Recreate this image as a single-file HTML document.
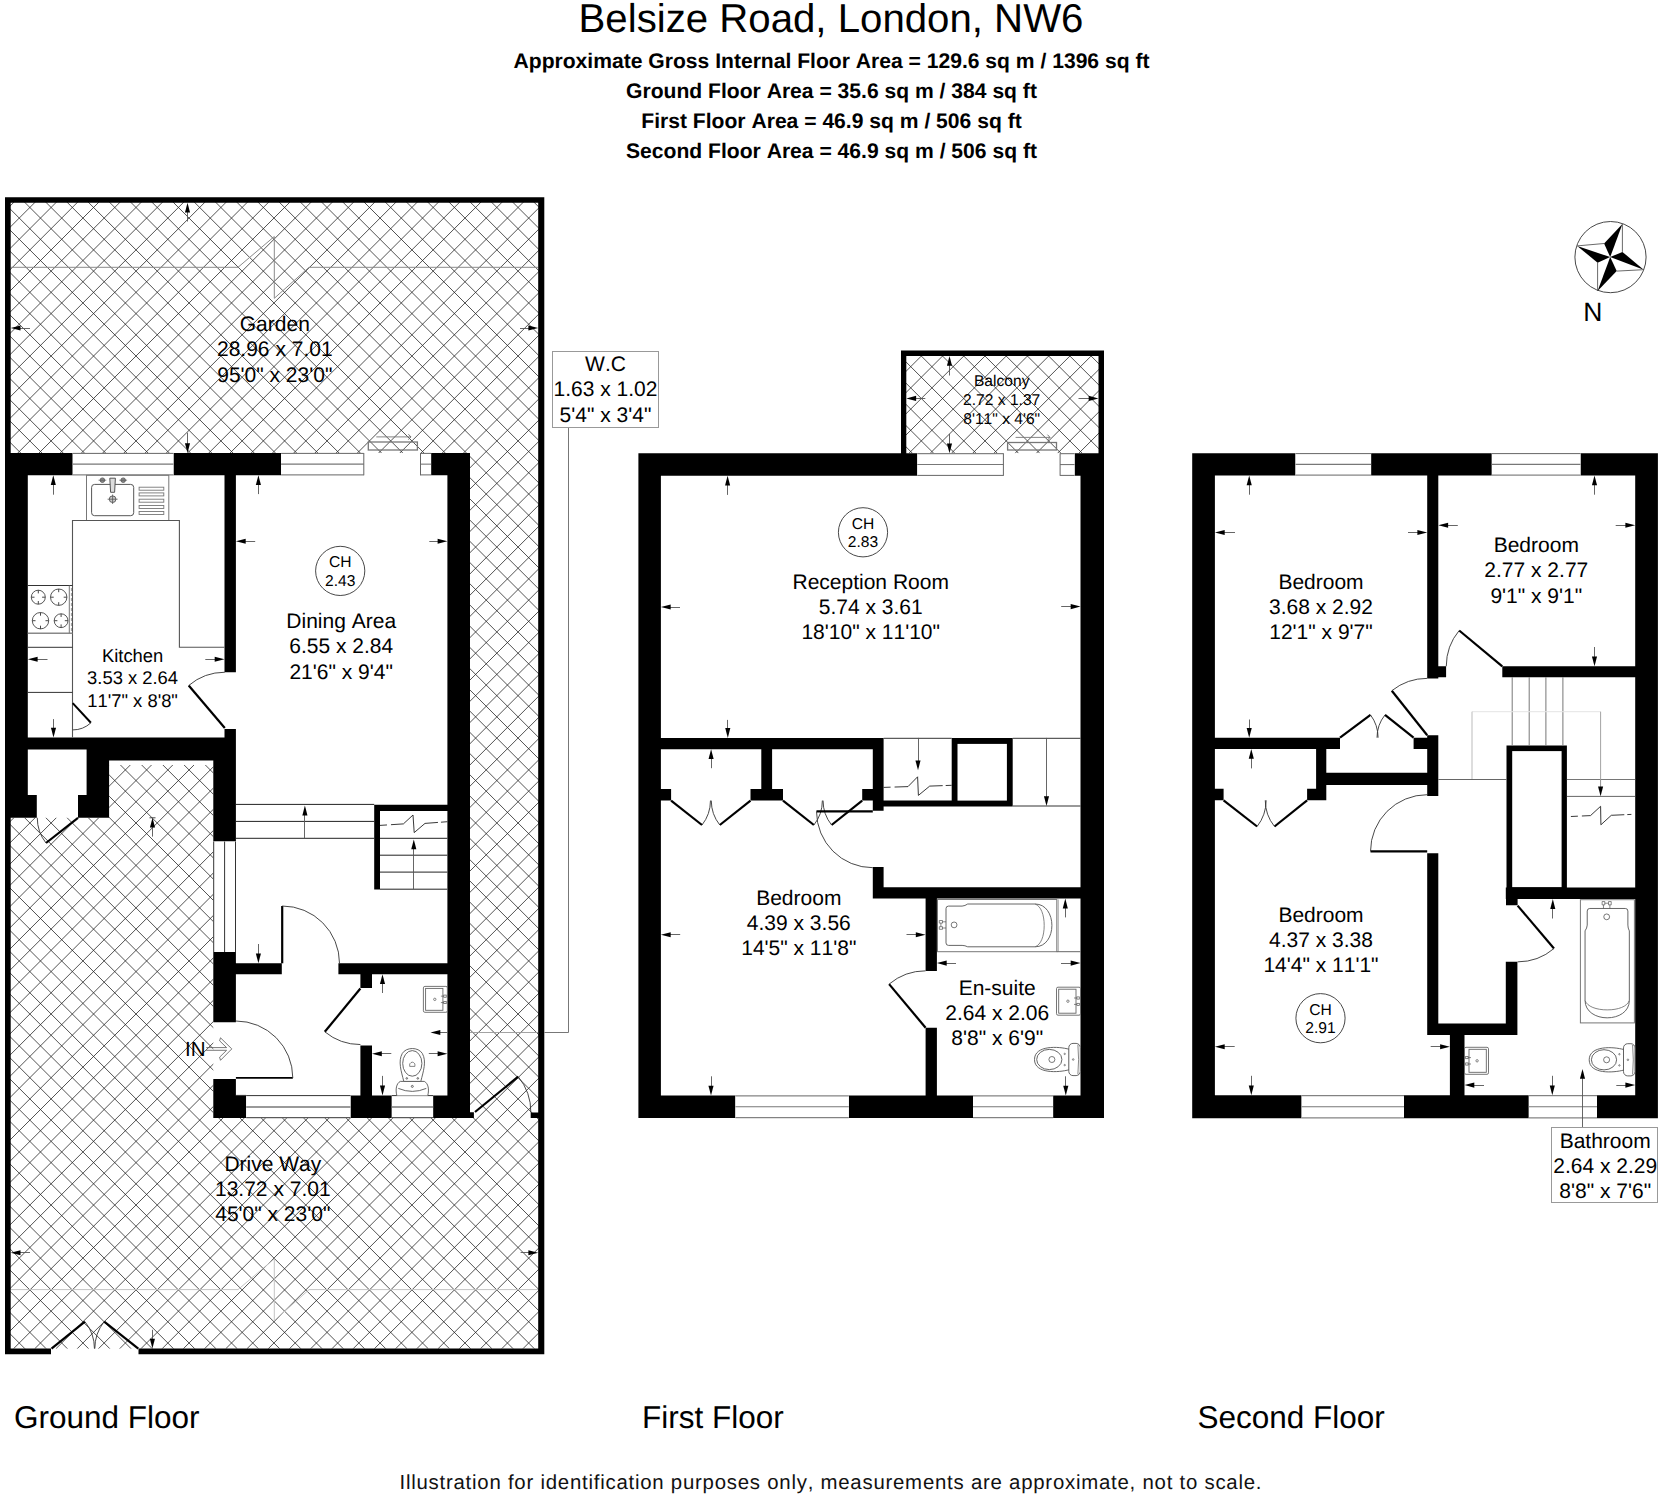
<!DOCTYPE html>
<html><head><meta charset="utf-8"><title>Belsize Road floor plan</title>
<style>html,body{margin:0;padding:0;background:#fff}svg{display:block}</style></head>
<body>
<svg width="1664" height="1496" viewBox="0 0 1664 1496" font-family="'Liberation Sans', sans-serif" fill="#000" style="font-kerning:none" text-rendering="geometricPrecision">
<rect width="1664" height="1496" fill="#fff"/>
<clipPath id="hg"><rect x="8" y="200" width="533" height="1148.8"/></clipPath>
<g clip-path="url(#hg)" stroke="#222" stroke-width="0.78">
<path d="M-1123.75 200L25.05 1348.8M-1102.52 200L46.28 1348.8M-1081.3 200L67.5 1348.8M-1060.07 200L88.73 1348.8M-1038.85 200L109.95 1348.8M-1017.62 200L131.18 1348.8M-996.39 200L152.4 1348.8M-975.17 200L173.63 1348.8M-953.95 200L194.85 1348.8M-932.72 200L216.08 1348.8M-911.5 200L237.3 1348.8M-890.27 200L258.53 1348.8M-869.05 200L279.75 1348.8M-847.82 200L300.98 1348.8M-826.6 200L322.2 1348.8M-805.37 200L343.43 1348.8M-784.14 200L364.65 1348.8M-762.92 200L385.88 1348.8M-741.69 200L407.11 1348.8M-720.47 200L428.33 1348.8M-699.25 200L449.55 1348.8M-678.02 200L470.78 1348.8M-656.8 200L492 1348.8M-635.57 200L513.23 1348.8M-614.35 200L534.45 1348.8M-593.12 200L555.68 1348.8M-571.89 200L576.9 1348.8M-550.67 200L598.13 1348.8M-529.44 200L619.36 1348.8M-508.22 200L640.58 1348.8M-487 200L661.8 1348.8M-465.77 200L683.03 1348.8M-444.55 200L704.25 1348.8M-423.32 200L725.48 1348.8M-402.1 200L746.7 1348.8M-380.87 200L767.93 1348.8M-359.64 200L789.15 1348.8M-338.42 200L810.38 1348.8M-317.19 200L831.61 1348.8M-295.97 200L852.83 1348.8M-274.75 200L874.05 1348.8M-253.52 200L895.28 1348.8M-232.3 200L916.5 1348.8M-211.07 200L937.73 1348.8M-189.85 200L958.95 1348.8M-168.62 200L980.18 1348.8M-147.39 200L1001.4 1348.8M-126.17 200L1022.63 1348.8M-104.94 200L1043.86 1348.8M-83.72 200L1065.08 1348.8M-62.5 200L1086.3 1348.8M-41.27 200L1107.53 1348.8M-20.04 200L1128.75 1348.8M1.18 200L1149.98 1348.8M22.41 200L1171.2 1348.8M43.63 200L1192.43 1348.8M64.86 200L1213.65 1348.8M86.08 200L1234.88 1348.8M107.31 200L1256.11 1348.8M128.53 200L1277.33 1348.8M149.76 200L1298.56 1348.8M170.98 200L1319.78 1348.8M192.21 200L1341 1348.8M213.43 200L1362.23 1348.8M234.66 200L1383.45 1348.8M255.88 200L1404.68 1348.8M277.11 200L1425.9 1348.8M298.33 200L1447.13 1348.8M319.56 200L1468.36 1348.8M340.78 200L1489.58 1348.8M362.01 200L1510.81 1348.8M383.23 200L1532.03 1348.8M404.46 200L1553.26 1348.8M425.68 200L1574.48 1348.8M446.91 200L1595.7 1348.8M468.13 200L1616.93 1348.8M489.36 200L1638.15 1348.8M510.58 200L1659.38 1348.8M531.81 200L1680.61 1348.8M16.09 200L-1132.7 1348.8M37.32 200L-1111.48 1348.8M58.55 200L-1090.25 1348.8M79.77 200L-1069.03 1348.8M101 200L-1047.8 1348.8M122.22 200L-1026.58 1348.8M143.44 200L-1005.36 1348.8M164.67 200L-984.13 1348.8M185.89 200L-962.9 1348.8M207.12 200L-941.68 1348.8M228.35 200L-920.45 1348.8M249.57 200L-899.23 1348.8M270.8 200L-878 1348.8M292.02 200L-856.78 1348.8M313.25 200L-835.55 1348.8M334.47 200L-814.33 1348.8M355.69 200L-793.11 1348.8M376.92 200L-771.88 1348.8M398.14 200L-750.65 1348.8M419.37 200L-729.43 1348.8M440.6 200L-708.2 1348.8M461.82 200L-686.98 1348.8M483.05 200L-665.75 1348.8M504.27 200L-644.53 1348.8M525.5 200L-623.3 1348.8M546.72 200L-602.08 1348.8M567.94 200L-580.86 1348.8M589.17 200L-559.63 1348.8M610.39 200L-538.4 1348.8M631.62 200L-517.18 1348.8M652.85 200L-495.95 1348.8M674.07 200L-474.73 1348.8M695.3 200L-453.5 1348.8M716.52 200L-432.28 1348.8M737.75 200L-411.05 1348.8M758.97 200L-389.83 1348.8M780.19 200L-368.61 1348.8M801.42 200L-347.38 1348.8M822.64 200L-326.15 1348.8M843.87 200L-304.93 1348.8M865.1 200L-283.7 1348.8M886.32 200L-262.48 1348.8M907.55 200L-241.25 1348.8M928.77 200L-220.03 1348.8M950 200L-198.8 1348.8M971.22 200L-177.58 1348.8M992.45 200L-156.35 1348.8M1013.67 200L-135.13 1348.8M1034.89 200L-113.9 1348.8M1056.12 200L-92.68 1348.8M1077.35 200L-71.45 1348.8M1098.57 200L-50.23 1348.8M1119.8 200L-29 1348.8M1141.02 200L-7.78 1348.8M1162.25 200L13.45 1348.8M1183.47 200L34.67 1348.8M1204.69 200L55.89 1348.8M1225.92 200L77.12 1348.8M1247.14 200L98.35 1348.8M1268.37 200L119.57 1348.8M1289.6 200L140.8 1348.8M1310.82 200L162.02 1348.8M1332.05 200L183.25 1348.8M1353.27 200L204.47 1348.8M1374.5 200L225.7 1348.8M1395.72 200L246.92 1348.8M1416.94 200L268.14 1348.8M1438.17 200L289.37 1348.8M1459.39 200L310.6 1348.8M1480.62 200L331.82 1348.8M1501.85 200L353.05 1348.8M1523.07 200L374.27 1348.8M1544.3 200L395.5 1348.8M1565.52 200L416.72 1348.8M1586.75 200L437.95 1348.8M1607.97 200L459.17 1348.8M1629.19 200L480.39 1348.8M1650.42 200L501.62 1348.8M1671.64 200L522.85 1348.8" fill="none"/>
</g>
<clipPath id="hb"><rect x="904" y="353" width="197" height="100.3"/></clipPath>
<g clip-path="url(#hb)" stroke="#222" stroke-width="0.78">
<path d="M812.15 353L912.46 453.3M833.38 353L933.68 453.3M854.61 353L954.91 453.3M875.83 353L976.13 453.3M897.06 353L997.36 453.3M918.28 353L1018.58 453.3M939.51 353L1039.81 453.3M960.73 353L1061.03 453.3M981.96 353L1082.26 453.3M1003.18 353L1103.48 453.3M1024.4 353L1124.7 453.3M1045.63 353L1145.93 453.3M1066.86 353L1167.15 453.3M1088.08 353L1188.38 453.3M924.35 353L824.05 453.3M945.57 353L845.27 453.3M966.8 353L866.5 453.3M988.02 353L887.72 453.3M1009.25 353L908.95 453.3M1030.47 353L930.17 453.3M1051.69 353L951.39 453.3M1072.92 353L972.62 453.3M1094.14 353L993.85 453.3M1115.37 353L1015.07 453.3M1136.6 353L1036.3 453.3M1157.82 353L1057.52 453.3M1179.05 353L1078.75 453.3M1200.27 353L1099.97 453.3" fill="none"/>
</g>
<path d="M10.7 267.3 L238 267.3 L274.3 236.5 L274.3 298.3 L309 267.3 L538 267.3" stroke="#8a8a8a" stroke-width="1" fill="none" />
<path d="M10.7 1289.6 L238 1289.6 L274.3 1258.8 L274.3 1320.6 L309 1289.6 L538 1289.6" stroke="#c4c4c4" stroke-width="1" fill="none" />
<rect x="5" y="453" width="465" height="312" fill="#fff" />
<rect x="5" y="453" width="104.1" height="364.8" fill="#fff" />
<rect x="213.3" y="758" width="256.7" height="360.1" fill="#fff" />
<path d="M5 197.2H544.3V202.8H5ZM5 197.2H10.7V1354.2H5ZM538.2 197.2H544.3V1354.2H538.2ZM5 1348.6H51V1354.2H5ZM138.5 1348.6H544.3V1354.2H138.5ZM530.7 1112.5H538.3V1118H530.7ZM5 453H72.7V475.3H5ZM173.5 453H281.1V475.3H173.5ZM431.1 453H470V475.3H431.1ZM447.4 453H470V1118.1H447.4ZM5 453H27.8V817.8H5ZM224.5 470H235.9V672.2H224.5ZM224.5 729H235.9V760H224.5ZM5 737.6H90V749.5H5ZM86.6 737.6H235.9V760.6H86.6ZM86.6 745H109.1V817.8H86.6ZM27.8 794.9H36.8V817.8H27.8ZM78 794.9H86.6V817.8H78ZM213.3 755H235.9V841.5H213.3ZM213.3 952H235.9V1022.2H213.3ZM213.3 1079H235.9V1118.1H213.3ZM235.9 963.3H281.8V974.2H235.9ZM338.4 963.3H447.4V974.2H338.4ZM360.4 974.2H372V988H360.4ZM360.4 1045.4H372V1095.5H360.4ZM213.3 1095.4H246.2V1118.1H213.3ZM350.5 1095.4H391.8V1118.1H350.5ZM433.1 1095.4H470V1118H433.1ZM469 1112.3H473.9V1117.9H469ZM374.2 804.8H447.4V810.9H374.2ZM374.2 804.8H380V889.4H374.2Z" fill="#000"/>
<rect x="72.7" y="453" width="100.8" height="22.3" fill="#fff" />
<line x1="72.7" y1="453.4" x2="173.5" y2="453.4" stroke="#555" stroke-width="0.9" />
<line x1="72.7" y1="464.15" x2="173.5" y2="464.15" stroke="#777" stroke-width="1.1" />
<line x1="72.7" y1="474.9" x2="173.5" y2="474.9" stroke="#555" stroke-width="0.9" />
<rect x="281.1" y="453" width="82.7" height="22.3" fill="#fff" />
<line x1="281.1" y1="453.4" x2="363.8" y2="453.4" stroke="#555" stroke-width="0.9" />
<line x1="281.1" y1="464.15" x2="363.8" y2="464.15" stroke="#777" stroke-width="1.1" />
<line x1="281.1" y1="474.9" x2="363.8" y2="474.9" stroke="#555" stroke-width="0.9" />
<rect x="420.3" y="453" width="10.8" height="22.3" fill="#fff" />
<line x1="420.3" y1="453.4" x2="431.1" y2="453.4" stroke="#555" stroke-width="0.9" />
<line x1="420.3" y1="464.15" x2="431.1" y2="464.15" stroke="#777" stroke-width="1.1" />
<line x1="420.3" y1="474.9" x2="431.1" y2="474.9" stroke="#555" stroke-width="0.9" />
<line x1="363.8" y1="453" x2="363.8" y2="475.3" stroke="#666" stroke-width="1" />
<line x1="420.5" y1="453" x2="420.5" y2="475.3" stroke="#666" stroke-width="1" />
<rect x="213.3" y="841.5" width="22.6" height="110.5" fill="#fff" />
<line x1="213.7" y1="841.5" x2="213.7" y2="952" stroke="#333" stroke-width="1" />
<line x1="224.6" y1="841.5" x2="224.6" y2="952" stroke="#333" stroke-width="1" />
<line x1="235.5" y1="841.5" x2="235.5" y2="952" stroke="#333" stroke-width="1" />
<rect x="246.2" y="1095.4" width="104.3" height="22.7" fill="#fff" />
<line x1="246.2" y1="1095.6" x2="350.5" y2="1095.6" stroke="#333" stroke-width="1" />
<line x1="246.2" y1="1107" x2="350.5" y2="1107" stroke="#777" stroke-width="1.3" />
<line x1="246.2" y1="1117.7" x2="350.5" y2="1117.7" stroke="#333" stroke-width="1" />
<line x1="235.9" y1="1095.4" x2="246.2" y2="1095.4" stroke="#333" stroke-width="1" />
<rect x="391.8" y="1095.4" width="41.3" height="22.7" fill="#fff" />
<line x1="391.8" y1="1095.6" x2="433.1" y2="1095.6" stroke="#333" stroke-width="1" />
<line x1="391.8" y1="1107" x2="433.1" y2="1107" stroke="#777" stroke-width="1.3" />
<line x1="391.8" y1="1117.7" x2="433.1" y2="1117.7" stroke="#333" stroke-width="1" />
<rect x="368.3" y="442" width="49.1" height="8" fill="none" stroke="#777" stroke-width="1.3"/>
<line x1="376.3" y1="436.9" x2="410.9" y2="436.9" stroke="#777" stroke-width="0.9" />
<path d="M408.4 434.2 L410.9 436.9 L408.4 439.6" stroke="#666" stroke-width="0.9" fill="none" />
<line x1="235.9" y1="804.4" x2="374.2" y2="804.4" stroke="#222" stroke-width="1" />
<line x1="235.9" y1="821.4" x2="374.2" y2="821.4" stroke="#222" stroke-width="1" />
<line x1="235.9" y1="838.3" x2="374.2" y2="838.3" stroke="#222" stroke-width="1" />
<line x1="380" y1="838.3" x2="447.4" y2="838.3" stroke="#222" stroke-width="1" />
<line x1="380" y1="855.2" x2="447.4" y2="855.2" stroke="#222" stroke-width="1" />
<line x1="380" y1="872.1" x2="447.4" y2="872.1" stroke="#222" stroke-width="1" />
<line x1="380" y1="889.2" x2="447.4" y2="889.2" stroke="#222" stroke-width="1" />
<line x1="380" y1="825.4" x2="403.4" y2="823.9" stroke="#222" stroke-width="0.9" stroke-dasharray="7 4 40"/>
<path d="M403.4 823.9 L413 815 L414.2 832.6 L425 823.4" stroke="#222" stroke-width="0.9" fill="none" />
<line x1="425" y1="823.4" x2="447.4" y2="821.7" stroke="#222" stroke-width="0.9" stroke-dasharray="13 3 40"/>
<line x1="304.5" y1="814.4" x2="304.5" y2="838.3" stroke="#555" stroke-width="0.9" />
<polygon points="304.9,805.6 302.35,815.4 307.45,815.4" fill="#000"/>
<line x1="413.5" y1="848.3" x2="413.5" y2="889" stroke="#555" stroke-width="0.9" />
<polygon points="413.8,839.5 411.25,849.3 416.35,849.3" fill="#000"/>
<rect x="86.5" y="475.3" width="82.3" height="45.2" fill="none" stroke="#777" stroke-width="1"/>
<rect x="91.6" y="484.4" width="42.1" height="31.3" fill="none" stroke="#555" stroke-width="1" rx="3"/>
<path d="M109.8 478.2 L115.4 478.2 L114.6 492.3 L110.6 492.3 L109.8 478.2" stroke="#555" stroke-width="1" fill="#ddd" />
<circle cx="102.4" cy="480.2" r="2.3" fill="#888" stroke="#555" stroke-width="0.8"/><circle cx="123.2" cy="480.2" r="2.3" fill="#888" stroke="#555" stroke-width="0.8"/>
<line x1="98.5" y1="480.2" x2="106.3" y2="480.2" stroke="#555" stroke-width="0.7" />
<line x1="119.3" y1="480.2" x2="127.1" y2="480.2" stroke="#555" stroke-width="0.7" />
<circle cx="112.6" cy="499.2" r="3.3" fill="#ccc" stroke="#555" stroke-width="0.9"/>
<line x1="107.6" y1="499.2" x2="117.6" y2="499.2" stroke="#555" stroke-width="0.8" />
<line x1="112.6" y1="494.5" x2="112.6" y2="504" stroke="#555" stroke-width="0.8" />
<rect x="139.1" y="487.2" width="24.7" height="3" fill="none" stroke="#777" stroke-width="0.9"/>
<rect x="139.1" y="492.9" width="24.7" height="3" fill="none" stroke="#777" stroke-width="0.9"/>
<rect x="139.1" y="499.2" width="24.7" height="3" fill="none" stroke="#777" stroke-width="0.9"/>
<rect x="139.1" y="505.5" width="24.7" height="3" fill="none" stroke="#777" stroke-width="0.9"/>
<rect x="139.1" y="511.5" width="24.7" height="3" fill="none" stroke="#777" stroke-width="0.9"/>
<path d="M72.5 737.6 L72.5 520.5 L179.4 520.5 L179.4 647.3 L224.5 647.3" stroke="#555" stroke-width="1.1" fill="none" />
<line x1="27.8" y1="585.5" x2="72.5" y2="585.5" stroke="#333" stroke-width="1" />
<line x1="27.8" y1="633.2" x2="72.5" y2="633.2" stroke="#888" stroke-width="1.6" />
<line x1="69.3" y1="585.5" x2="69.3" y2="633.2" stroke="#777" stroke-width="1" />
<line x1="71.4" y1="588" x2="71.4" y2="632" stroke="#999" stroke-width="1" stroke-dasharray="3 2"/>
<line x1="27.8" y1="647.3" x2="72.5" y2="647.3" stroke="#333" stroke-width="1" />
<line x1="27.8" y1="692.4" x2="72.5" y2="692.4" stroke="#333" stroke-width="1" />
<circle cx="38.3" cy="597.2" r="7" fill="none" stroke="#444" stroke-width="0.9"/>
<line x1="31.3" y1="597.2" x2="34.5" y2="597.2" stroke="#333" stroke-width="0.9" />
<line x1="45.3" y1="597.2" x2="42.1" y2="597.2" stroke="#333" stroke-width="0.9" />
<line x1="38.3" y1="590.2" x2="38.3" y2="593.4" stroke="#333" stroke-width="0.9" />
<line x1="38.3" y1="604.2" x2="38.3" y2="601" stroke="#333" stroke-width="0.9" />
<circle cx="58.7" cy="597.2" r="8.2" fill="none" stroke="#444" stroke-width="0.9"/>
<line x1="50.5" y1="597.2" x2="53.7" y2="597.2" stroke="#333" stroke-width="0.9" />
<line x1="66.9" y1="597.2" x2="63.7" y2="597.2" stroke="#333" stroke-width="0.9" />
<line x1="58.7" y1="589" x2="58.7" y2="592.2" stroke="#333" stroke-width="0.9" />
<line x1="58.7" y1="605.4" x2="58.7" y2="602.2" stroke="#333" stroke-width="0.9" />
<circle cx="40.5" cy="620.7" r="8.2" fill="none" stroke="#444" stroke-width="0.9"/>
<line x1="32.3" y1="620.7" x2="35.5" y2="620.7" stroke="#333" stroke-width="0.9" />
<line x1="48.7" y1="620.7" x2="45.5" y2="620.7" stroke="#333" stroke-width="0.9" />
<line x1="40.5" y1="612.5" x2="40.5" y2="615.7" stroke="#333" stroke-width="0.9" />
<line x1="40.5" y1="628.9" x2="40.5" y2="625.7" stroke="#333" stroke-width="0.9" />
<circle cx="61.1" cy="620.7" r="6.9" fill="none" stroke="#444" stroke-width="0.9"/>
<line x1="54.2" y1="620.7" x2="57.4" y2="620.7" stroke="#333" stroke-width="0.9" />
<line x1="68" y1="620.7" x2="64.8" y2="620.7" stroke="#333" stroke-width="0.9" />
<line x1="61.1" y1="613.8" x2="61.1" y2="617" stroke="#333" stroke-width="0.9" />
<line x1="61.1" y1="627.6" x2="61.1" y2="624.4" stroke="#333" stroke-width="0.9" />
<line x1="224.8" y1="728" x2="188.7" y2="685.5" stroke="#000" stroke-width="2.2" />
<path d="M188.7 685.5 A55.76 55.76 0 0 1 224.8 672.24" stroke="#333" stroke-width="0.9" fill="none" />
<line x1="72.7" y1="703.1" x2="90.9" y2="722.8" stroke="#000" stroke-width="2" />
<path d="M90.9 722.8 A26.82 26.82 0 0 1 72.7 729.92" stroke="#333" stroke-width="0.9" fill="none" />
<line x1="78" y1="817.8" x2="46" y2="843" stroke="#000" stroke-width="2.2" />
<path d="M46 843 A40.73 40.73 0 0 1 37.27 817.8" stroke="#333" stroke-width="0.9" fill="none" />
<line x1="235.9" y1="1077.9" x2="292.8" y2="1077.9" stroke="#000" stroke-width="1.9" />
<path d="M292.8 1077.9 A56.9 56.9 0 0 0 235.9 1021" stroke="#333" stroke-width="0.9" fill="none" />
<line x1="282.2" y1="963.3" x2="282.2" y2="906" stroke="#000" stroke-width="2.2" />
<path d="M282.2 906 A57.3 57.3 0 0 1 339.5 963.3" stroke="#333" stroke-width="0.9" fill="none" />
<line x1="360.4" y1="988.5" x2="324.8" y2="1031.8" stroke="#000" stroke-width="2.2" />
<path d="M324.8 1031.8 A56.06 56.06 0 0 0 360.4 1044.56" stroke="#333" stroke-width="0.9" fill="none" />
<line x1="475" y1="1112" x2="518.2" y2="1076.6" stroke="#000" stroke-width="2.2" />
<path d="M518.2 1076.6 A55.85 55.85 0 0 1 530.85 1112.5" stroke="#333" stroke-width="0.9" fill="none" />
<line x1="51.5" y1="1348.6" x2="84.9" y2="1321.6" stroke="#000" stroke-width="2.2" />
<path d="M84.9 1321.6 A42.95 42.95 0 0 1 94.45 1348.6" stroke="#333" stroke-width="0.9" fill="none" />
<line x1="138.3" y1="1348.6" x2="104.2" y2="1321.6" stroke="#000" stroke-width="2.2" />
<path d="M104.2 1321.6 A43.49 43.49 0 0 0 94.81 1348.6" stroke="#333" stroke-width="0.9" fill="none" />
<rect x="423.4" y="986.4" width="24" height="25.9" fill="none" stroke="#666" stroke-width="0.9" rx="1.5"/>
<rect x="425.6" y="988.4" width="17.3" height="21.9" fill="none" stroke="#666" stroke-width="0.9"/>
<circle cx="434.8" cy="999.35" r="1.2" fill="none" stroke="#555" stroke-width="0.7"/>
<rect x="443.8" y="995.05" width="2.4" height="2.2" fill="none" stroke="#555" stroke-width="0.7"/>
<line x1="440.9" y1="996.15" x2="443.8" y2="996.15" stroke="#555" stroke-width="0.7" />
<rect x="443.8" y="1001.45" width="2.4" height="2.2" fill="none" stroke="#555" stroke-width="0.7"/>
<line x1="440.9" y1="1002.55" x2="443.8" y2="1002.55" stroke="#555" stroke-width="0.7" />
<g fill="#fff" stroke="#555" stroke-width="0.9">
<path d="M396.8 1095.4 C395.3 1089.4 396.3 1083.4 400.3 1081.4 L424.3 1081.4 C428.3 1083.4 429.3 1089.4 427.8 1095.4"/>
<path d="M398.3 1088.4 Q412.3 1094.4 426.3 1088.4" fill="none"/>
<path d="M403.8 1081.4 C401.3 1071.4 397.8 1061.4 402.3 1053.4 C406.3 1046.9 418.3 1046.9 422.3 1053.4 C426.8 1061.4 423.3 1071.4 420.8 1081.4 Z"/>
<ellipse cx="412.3" cy="1063.4" rx="9.6" ry="12.8"/>
<path d="M409.7 1066.4 L409.7 1063.9 Q412.3 1060.4 414.9 1063.9 L414.9 1066.4 Z" stroke-width="0.7"/>
<circle cx="406.8" cy="1078.4" r="0.8"/><circle cx="417.8" cy="1078.4" r="0.8"/><circle cx="412.3" cy="1086.4" r="1"/>
</g>
<line x1="187.5" y1="211.6" x2="187.5" y2="221.5" stroke="#555" stroke-width="0.9" />
<polygon points="187.5,202.8 184.95,212.6 190.05,212.6" fill="#000"/>
<line x1="187.5" y1="444.2" x2="187.5" y2="432.7" stroke="#555" stroke-width="0.9" />
<polygon points="187.5,453 184.95,443.2 190.05,443.2" fill="#000"/>
<line x1="19.5" y1="328.5" x2="30" y2="328.5" stroke="#555" stroke-width="0.9" />
<polygon points="10.7,328 20.5,325.45 20.5,330.55" fill="#000"/>
<line x1="529.4" y1="328.5" x2="520" y2="328.5" stroke="#555" stroke-width="0.9" />
<polygon points="538.2,328 528.4,325.45 528.4,330.55" fill="#000"/>
<line x1="53.5" y1="484.1" x2="53.5" y2="494.7" stroke="#555" stroke-width="0.9" />
<polygon points="53.3,475.3 50.75,485.1 55.85,485.1" fill="#000"/>
<line x1="258.5" y1="484.1" x2="258.5" y2="494.1" stroke="#555" stroke-width="0.9" />
<polygon points="258.4,475.3 255.85,485.1 260.95,485.1" fill="#000"/>
<line x1="244.7" y1="541.5" x2="255.2" y2="541.5" stroke="#555" stroke-width="0.9" />
<polygon points="235.9,541.3 245.7,538.75 245.7,543.85" fill="#000"/>
<line x1="438.6" y1="541.5" x2="429.3" y2="541.5" stroke="#555" stroke-width="0.9" />
<polygon points="447.4,541.3 437.6,538.75 437.6,543.85" fill="#000"/>
<line x1="36.6" y1="659.5" x2="47.5" y2="659.5" stroke="#555" stroke-width="0.9" />
<polygon points="27.8,659.3 37.6,656.75 37.6,661.85" fill="#000"/>
<line x1="215.7" y1="659.5" x2="205.3" y2="659.5" stroke="#555" stroke-width="0.9" />
<polygon points="224.5,659.3 214.7,656.75 214.7,661.85" fill="#000"/>
<line x1="53.5" y1="728.8" x2="53.5" y2="719.1" stroke="#555" stroke-width="0.9" />
<polygon points="53.5,737.6 50.95,727.8 56.05,727.8" fill="#000"/>
<line x1="152.5" y1="826.6" x2="152.5" y2="836.6" stroke="#555" stroke-width="0.9" />
<polygon points="152.5,817.8 149.95,827.6 155.05,827.6" fill="#000"/>
<line x1="149.5" y1="817.8" x2="155.5" y2="817.8" stroke="#333" stroke-width="0.9" />
<line x1="152.5" y1="1339.8" x2="152.5" y2="1329.8" stroke="#555" stroke-width="0.9" />
<polygon points="152.4,1348.6 149.85,1338.8 154.95,1338.8" fill="#000"/>
<line x1="19.5" y1="1252.5" x2="30" y2="1252.5" stroke="#555" stroke-width="0.9" />
<polygon points="10.7,1252.8 20.5,1250.25 20.5,1255.35" fill="#000"/>
<line x1="529.4" y1="1252.5" x2="520.6" y2="1252.5" stroke="#555" stroke-width="0.9" />
<polygon points="538.2,1252.8 528.4,1250.25 528.4,1255.35" fill="#000"/>
<line x1="258.5" y1="954.5" x2="258.5" y2="944" stroke="#555" stroke-width="0.9" />
<polygon points="258.4,963.3 255.85,953.5 260.95,953.5" fill="#000"/>
<line x1="382.5" y1="983" x2="382.5" y2="993" stroke="#555" stroke-width="0.9" />
<polygon points="382.5,974.2 379.95,984 385.05,984" fill="#000"/>
<line x1="382.5" y1="1086.6" x2="382.5" y2="1075.9" stroke="#555" stroke-width="0.9" />
<polygon points="382.5,1095.4 379.95,1085.6 385.05,1085.6" fill="#000"/>
<line x1="380.8" y1="1053.5" x2="391.3" y2="1053.5" stroke="#555" stroke-width="0.9" />
<polygon points="372,1053.8 381.8,1051.25 381.8,1056.35" fill="#000"/>
<line x1="438.6" y1="1053.5" x2="428.8" y2="1053.5" stroke="#555" stroke-width="0.9" />
<polygon points="447.4,1053.8 437.6,1051.25 437.6,1056.35" fill="#000"/>
<line x1="439.3" y1="1032.5" x2="447.4" y2="1032.5" stroke="#555" stroke-width="0.9" />
<polygon points="430.5,1032.5 440.3,1029.95 440.3,1035.05" fill="#000"/>
<line x1="470" y1="1032.5" x2="538" y2="1032.5" stroke="#999" stroke-width="0.9" />
<path d="M544.3 1032.5 L568.5 1032.5 L568.5 427.5" stroke="#777" stroke-width="1" fill="none" />
<rect x="552.5" y="351.5" width="106" height="76" fill="#fff" stroke="#999" stroke-width="1"/>
<text x="605.5" y="371.3" font-size="21" font-weight="normal" text-anchor="middle" >W.C</text>
<text x="605.5" y="396.4" font-size="21" font-weight="normal" text-anchor="middle" >1.63 x 1.02</text>
<text x="605.5" y="421.5" font-size="21" font-weight="normal" text-anchor="middle" >5'4&quot; x 3'4&quot;</text>
<text x="185" y="1055.9" font-size="20.5" font-weight="normal" text-anchor="start" >IN</text>
<path d="M206.2 1047.6 L226.6 1047.6 L219.6 1040.8 L220.5 1037.8 L231.8 1048.9 L220.5 1060.3 L219.6 1057.2 L226.6 1050.3 L206.2 1050.3" stroke="#555" stroke-width="0.8" fill="none" />
<text x="132.6" y="662.3" font-size="18.4" font-weight="normal" text-anchor="middle" >Kitchen</text>
<text x="132.6" y="684.4" font-size="18.4" font-weight="normal" text-anchor="middle" >3.53 x 2.64</text>
<text x="132.6" y="706.5" font-size="18.4" font-weight="normal" text-anchor="middle" >11'7&quot; x 8'8&quot;</text>
<text x="272.8" y="1170.7" font-size="21" font-weight="normal" text-anchor="middle" >Drive Way</text>
<text x="272.8" y="1195.9" font-size="21" font-weight="normal" text-anchor="middle" >13.72 x 7.01</text>
<text x="272.8" y="1221.1" font-size="21" font-weight="normal" text-anchor="middle" >45'0&quot; x 23'0&quot;</text>
<text x="274.8" y="330.8" font-size="21" font-weight="normal" text-anchor="middle" >Garden</text>
<text x="274.8" y="356.3" font-size="21" font-weight="normal" text-anchor="middle" >28.96 x 7.01</text>
<text x="274.8" y="381.8" font-size="21" font-weight="normal" text-anchor="middle" >95'0&quot; x 23'0&quot;</text>
<text x="341.2" y="628.2" font-size="21" font-weight="normal" text-anchor="middle" >Dining Area</text>
<text x="341.2" y="653.4" font-size="21" font-weight="normal" text-anchor="middle" >6.55 x 2.84</text>
<text x="341.2" y="678.6" font-size="21" font-weight="normal" text-anchor="middle" >21'6&quot; x 9'4&quot;</text>
<circle cx="340.2" cy="570.9" r="24.6" fill="none" stroke="#333" stroke-width="0.9"/>
<text x="340.2" y="567.2" font-size="15.6" font-weight="normal" text-anchor="middle" >CH</text>
<text x="340.2" y="586" font-size="15.6" font-weight="normal" text-anchor="middle" >2.43</text>
<path d="M638.4 453.3H660.9V1118.1H638.4ZM1080.5 453.3H1104V1118.1H1080.5ZM638.4 453.3H917.3V475.8H638.4ZM1074.6 453.3H1104V475.8H1074.6ZM638.4 1095.5H735.4V1118.1H638.4ZM848.8 1095.5H973V1118.1H848.8ZM1053.1 1095.5H1104V1118.1H1053.1ZM901 350.6H1104V356H901ZM901 350.6H906.3V453.3H901ZM1098.5 350.6H1104V453.3H1098.5ZM660.9 737.9H883.6V749.3H660.9ZM872.8 737.9H883.6V810.8H872.8ZM761.3 749.3H772.1V789.1H761.3ZM660.9 789.1H671.1V800.6H660.9ZM750.5 789.1H783V800.6H750.5ZM862.2 789.1H872.8V800.6H862.2ZM872.8 867H883.6V898.6H872.8ZM872.8 887.2H1080.5V898.6H872.8ZM883.6 800.6H1012.7V806.4H883.6ZM951.7 737.9H1012.7V806.4H951.7ZM925.6 898.6H936.9V970.9H925.6ZM925.6 1027.7H936.9V1095.5H925.6Z" fill="#000"/>
<rect x="917.3" y="453.3" width="86.1" height="22.5" fill="#fff" />
<line x1="917.3" y1="453.7" x2="1003.4" y2="453.7" stroke="#555" stroke-width="0.9" />
<line x1="917.3" y1="464.55" x2="1003.4" y2="464.55" stroke="#777" stroke-width="1.1" />
<line x1="917.3" y1="475.4" x2="1003.4" y2="475.4" stroke="#555" stroke-width="0.9" />
<line x1="1003.4" y1="453.3" x2="1003.4" y2="475.8" stroke="#666" stroke-width="1" />
<rect x="1060.1" y="453.3" width="14.5" height="22.5" fill="#fff" />
<line x1="1060.1" y1="453.7" x2="1074.6" y2="453.7" stroke="#555" stroke-width="0.9" />
<line x1="1060.1" y1="464.55" x2="1074.6" y2="464.55" stroke="#777" stroke-width="1.1" />
<line x1="1060.1" y1="475.4" x2="1074.6" y2="475.4" stroke="#555" stroke-width="0.9" />
<line x1="1060.1" y1="453.3" x2="1060.1" y2="475.8" stroke="#666" stroke-width="1" />
<rect x="735.4" y="1095.5" width="113.4" height="22.6" fill="#fff" />
<line x1="735.4" y1="1095.9" x2="848.8" y2="1095.9" stroke="#555" stroke-width="0.9" />
<line x1="735.4" y1="1106.8" x2="848.8" y2="1106.8" stroke="#777" stroke-width="1.1" />
<line x1="735.4" y1="1117.7" x2="848.8" y2="1117.7" stroke="#555" stroke-width="0.9" />
<rect x="973" y="1095.5" width="80.1" height="22.6" fill="#fff" />
<line x1="973" y1="1095.9" x2="1053.1" y2="1095.9" stroke="#555" stroke-width="0.9" />
<line x1="973" y1="1106.8" x2="1053.1" y2="1106.8" stroke="#777" stroke-width="1.1" />
<line x1="973" y1="1117.7" x2="1053.1" y2="1117.7" stroke="#555" stroke-width="0.9" />
<rect x="957.5" y="743.9" width="49.4" height="56.7" fill="#fff" />
<rect x="1007.6" y="442.5" width="48.9" height="7.5" fill="none" stroke="#777" stroke-width="1.3"/>
<line x1="1015.6" y1="437.4" x2="1050" y2="437.4" stroke="#777" stroke-width="0.9" />
<path d="M1047.5 434.7 L1050 437.4 L1047.5 440.1" stroke="#666" stroke-width="0.9" fill="none" />
<line x1="883.6" y1="738.3" x2="951.7" y2="738.3" stroke="#333" stroke-width="1" />
<line x1="1012.7" y1="738.3" x2="1080.5" y2="738.3" stroke="#333" stroke-width="1" />
<line x1="1012.7" y1="806" x2="1080.5" y2="806" stroke="#333" stroke-width="1" />
<line x1="883.6" y1="787.4" x2="908" y2="786.6" stroke="#222" stroke-width="0.9" stroke-dasharray="7 4 40"/>
<path d="M908 786.6 L917.6 776.8 L918.4 795.4 L929.7 786.1" stroke="#222" stroke-width="0.9" fill="none" />
<line x1="929.7" y1="786.1" x2="951.7" y2="785.3" stroke="#222" stroke-width="0.9" stroke-dasharray="13 3 40"/>
<line x1="918.5" y1="761.5" x2="918.5" y2="737.9" stroke="#555" stroke-width="0.9" />
<polygon points="918,770.3 915.45,760.5 920.55,760.5" fill="#000"/>
<line x1="1046.5" y1="797.2" x2="1046.5" y2="737.9" stroke="#555" stroke-width="0.9" />
<polygon points="1046.5,806 1043.95,796.2 1049.05,796.2" fill="#000"/>
<line x1="671.1" y1="800.6" x2="702" y2="825" stroke="#000" stroke-width="2.2" />
<path d="M702 825 A39.37 39.37 0 0 0 710.47 800.6" stroke="#333" stroke-width="0.9" fill="none" />
<line x1="750.5" y1="800.6" x2="719.8" y2="825" stroke="#000" stroke-width="2.2" />
<path d="M719.8 825 A39.22 39.22 0 0 1 711.28 800.6" stroke="#333" stroke-width="0.9" fill="none" />
<line x1="783" y1="800.6" x2="813.9" y2="825" stroke="#000" stroke-width="2.2" />
<path d="M813.9 825 A39.37 39.37 0 0 0 822.37 800.6" stroke="#333" stroke-width="0.9" fill="none" />
<line x1="862.2" y1="800.6" x2="831.6" y2="825" stroke="#000" stroke-width="2.2" />
<path d="M831.6 825 A39.14 39.14 0 0 1 823.06 800.6" stroke="#333" stroke-width="0.9" fill="none" />
<line x1="872.8" y1="811.4" x2="816.5" y2="811.4" stroke="#000" stroke-width="2.2" />
<path d="M816.5 811.4 A56.3 56.3 0 0 0 872.8 867.7" stroke="#333" stroke-width="0.9" fill="none" />
<line x1="925.6" y1="1027.7" x2="889.1" y2="984.1" stroke="#000" stroke-width="2.2" />
<path d="M889.1 984.1 A56.86 56.86 0 0 1 925.6 970.84" stroke="#333" stroke-width="0.9" fill="none" />
<rect x="937.5" y="899.5" width="119.3" height="52.2" fill="none" stroke="#777" stroke-width="1"/>
<path d="M948.5 906.1L962.1 906.1Q965 905.9 967.7 904L1035.1 904C1046 904 1051.9 914.5 1051.9 925.4C1051.9 936.5 1046 946.8 1035.1 946.8L967.7 946.8Q965 945.4 962.1 945.4L948.5 945.4Q946 945.4 946 942.9L946 908.6Q946 906.1 948.5 906.1Z" stroke="#555" stroke-width="0.9" fill="none" />
<path d="M1035.1 904C1041 906 1044.2 915 1044.2 925.4C1044.2 936 1041 944.8 1035.1 946.8" stroke="#666" stroke-width="0.8" fill="none" />
<circle cx="954.1" cy="924.9" r="2.9" fill="none" stroke="#555" stroke-width="0.8"/>
<path d="M939.3 920.5L942.5 920.5L942.5 923.1L939.3 923.1Z" stroke="#555" stroke-width="0.7" fill="none" />
<path d="M942.5 921.8L946 921.8" stroke="#555" stroke-width="0.7" fill="none" />
<path d="M939.3 926.7L942.5 926.7L942.5 929.3L939.3 929.3Z" stroke="#555" stroke-width="0.7" fill="none" />
<path d="M942.5 928L946 928" stroke="#555" stroke-width="0.7" fill="none" />
<path d="M940.9 923.1L940.9 926.7" stroke="#555" stroke-width="0.7" fill="none" />
<line x1="1058.2" y1="899.5" x2="1058.2" y2="951.7" stroke="#888" stroke-width="0.8" />
<line x1="1056.8" y1="951.7" x2="1080.5" y2="951.7" stroke="#666" stroke-width="1" />
<rect x="1056.5" y="987.2" width="24" height="28" fill="none" stroke="#666" stroke-width="0.9" rx="1.5"/>
<rect x="1058.7" y="989.2" width="17.3" height="24" fill="none" stroke="#666" stroke-width="0.9"/>
<circle cx="1067.9" cy="1001.2" r="1.2" fill="none" stroke="#555" stroke-width="0.7"/>
<rect x="1076.9" y="996.9" width="2.4" height="2.2" fill="none" stroke="#555" stroke-width="0.7"/>
<line x1="1074" y1="998" x2="1076.9" y2="998" stroke="#555" stroke-width="0.7" />
<rect x="1076.9" y="1003.3" width="2.4" height="2.2" fill="none" stroke="#555" stroke-width="0.7"/>
<line x1="1074" y1="1004.4" x2="1076.9" y2="1004.4" stroke="#555" stroke-width="0.7" />
<g fill="#fff" stroke="#555" stroke-width="0.9">
<path d="M1069.3 1049.3 C1058.5 1046.3 1034.5 1045 1034.5 1059.5 C1034.5 1074 1058.5 1072.7 1069.3 1069.7 Z"/>
<ellipse cx="1049.3" cy="1059.5" rx="12.6" ry="10.1"/>
<circle cx="1051.9" cy="1059.5" r="3" stroke-width="0.8"/>
<rect x="1068.8" y="1043.4" width="11.5" height="32.2" rx="4.2"/>
<path d="M1077.9 1044.7 Q1079.3 1059.5 1077.9 1074.3" fill="none" stroke-width="0.7"/>
<circle cx="1073.2" cy="1059.5" r="0.8" stroke-width="0.7"/>
<circle cx="1064.7" cy="1053.9" r="0.7" stroke-width="0.7"/><circle cx="1064.7" cy="1065.1" r="0.7" stroke-width="0.7"/>
</g>
<line x1="727.5" y1="484.6" x2="727.5" y2="494.9" stroke="#555" stroke-width="0.9" />
<polygon points="727.6,475.8 725.05,485.6 730.15,485.6" fill="#000"/>
<line x1="727.5" y1="729.1" x2="727.5" y2="719.9" stroke="#555" stroke-width="0.9" />
<polygon points="727.8,737.9 725.25,728.1 730.35,728.1" fill="#000"/>
<line x1="669.7" y1="607.5" x2="680" y2="607.5" stroke="#555" stroke-width="0.9" />
<polygon points="660.9,607 670.7,604.45 670.7,609.55" fill="#000"/>
<line x1="1071.7" y1="606.5" x2="1061.2" y2="606.5" stroke="#555" stroke-width="0.9" />
<polygon points="1080.5,606.6 1070.7,604.05 1070.7,609.15" fill="#000"/>
<line x1="949.5" y1="364.8" x2="949.5" y2="375.5" stroke="#555" stroke-width="0.9" />
<polygon points="949.5,356 946.95,365.8 952.05,365.8" fill="#000"/>
<line x1="949.5" y1="444.5" x2="949.5" y2="433.9" stroke="#555" stroke-width="0.9" />
<polygon points="949.5,453.3 946.95,443.5 952.05,443.5" fill="#000"/>
<line x1="915.1" y1="398.5" x2="925.3" y2="398.5" stroke="#555" stroke-width="0.9" />
<polygon points="906.3,398.4 916.1,395.85 916.1,400.95" fill="#000"/>
<line x1="1089.7" y1="398.5" x2="1078.5" y2="398.5" stroke="#555" stroke-width="0.9" />
<polygon points="1098.5,398.4 1088.7,395.85 1088.7,400.95" fill="#000"/>
<line x1="711.5" y1="758.1" x2="711.5" y2="768.2" stroke="#555" stroke-width="0.9" />
<polygon points="711.1,749.3 708.55,759.1 713.65,759.1" fill="#000"/>
<line x1="711.5" y1="1086.7" x2="711.5" y2="1076.3" stroke="#555" stroke-width="0.9" />
<polygon points="711,1095.5 708.45,1085.7 713.55,1085.7" fill="#000"/>
<line x1="669.7" y1="934.5" x2="680.2" y2="934.5" stroke="#555" stroke-width="0.9" />
<polygon points="660.9,934.7 670.7,932.15 670.7,937.25" fill="#000"/>
<line x1="916.8" y1="934.5" x2="906.5" y2="934.5" stroke="#555" stroke-width="0.9" />
<polygon points="925.6,934.7 915.8,932.15 915.8,937.25" fill="#000"/>
<line x1="945.7" y1="963.5" x2="956" y2="963.5" stroke="#555" stroke-width="0.9" />
<polygon points="936.9,963.1 946.7,960.55 946.7,965.65" fill="#000"/>
<line x1="1071.7" y1="963.5" x2="1061" y2="963.5" stroke="#555" stroke-width="0.9" />
<polygon points="1080.5,963.1 1070.7,960.55 1070.7,965.65" fill="#000"/>
<line x1="1065.5" y1="907.4" x2="1065.5" y2="917.4" stroke="#555" stroke-width="0.9" />
<polygon points="1065.3,898.6 1062.75,908.4 1067.85,908.4" fill="#000"/>
<line x1="1065.5" y1="1086.7" x2="1065.5" y2="1076.3" stroke="#555" stroke-width="0.9" />
<polygon points="1065.8,1095.5 1063.25,1085.7 1068.35,1085.7" fill="#000"/>
<text x="870.7" y="588.5" font-size="21" font-weight="normal" text-anchor="middle" >Reception Room</text>
<text x="870.7" y="613.7" font-size="21" font-weight="normal" text-anchor="middle" >5.74 x 3.61</text>
<text x="870.7" y="638.9" font-size="21" font-weight="normal" text-anchor="middle" >18'10&quot; x 11'10&quot;</text>
<circle cx="863" cy="532.3" r="24.6" fill="none" stroke="#333" stroke-width="0.9"/>
<text x="863" y="528.6" font-size="15.6" font-weight="normal" text-anchor="middle" >CH</text>
<text x="863" y="547.4" font-size="15.6" font-weight="normal" text-anchor="middle" >2.83</text>
<text x="1001.7" y="385.8" font-size="15.6" font-weight="normal" text-anchor="middle" >Balcony</text>
<text x="1001.7" y="404.7" font-size="15.6" font-weight="normal" text-anchor="middle" >2.72 x 1.37</text>
<text x="1001.7" y="423.6" font-size="15.6" font-weight="normal" text-anchor="middle" >8'11&quot; x 4'6&quot;</text>
<text x="798.8" y="904.5" font-size="21" font-weight="normal" text-anchor="middle" >Bedroom</text>
<text x="798.8" y="929.5" font-size="21" font-weight="normal" text-anchor="middle" >4.39 x 3.56</text>
<text x="798.8" y="954.5" font-size="21" font-weight="normal" text-anchor="middle" >14'5&quot; x 11'8&quot;</text>
<text x="997.2" y="994.7" font-size="21" font-weight="normal" text-anchor="middle" >En-suite</text>
<text x="997.2" y="1020" font-size="21" font-weight="normal" text-anchor="middle" >2.64 x 2.06</text>
<text x="997.2" y="1045.3" font-size="21" font-weight="normal" text-anchor="middle" >8'8&quot; x 6'9&quot;</text>
<path d="M1192.2 453.2H1214.9V1118.3H1192.2ZM1635.2 453.2H1657.9V1118.3H1635.2ZM1192.2 453.2H1295.5V475.5H1192.2ZM1371.1 453.2H1491.8V475.5H1371.1ZM1580.5 453.2H1657.9V475.5H1580.5ZM1192.2 1095.3H1301.6V1118.3H1192.2ZM1404 1095.3H1528.8V1118.3H1404ZM1597 1095.3H1657.9V1118.3H1597ZM1427.2 475.5H1438.3V678.5H1427.2ZM1427.2 666.3H1446.1V677.2H1427.2ZM1502.3 666.3H1635.2V677.2H1502.3ZM1214.9 737.7H1340V748.9H1214.9ZM1413.6 737.7H1438.3V748.9H1413.6ZM1427.2 735.3H1438.3V796H1427.2ZM1316.1 748.9H1326.3V800.3H1316.1ZM1326.3 772.7H1427.2V784.9H1326.3ZM1214.9 788.7H1223.6V800.3H1214.9ZM1307.1 788.7H1326.3V800.3H1307.1ZM1427.2 853.3H1438.3V1035H1427.2ZM1427.2 1023.4H1517.4V1035H1427.2ZM1505.8 961.8H1517.4V1035H1505.8ZM1449.9 1035H1464.5V1095.3H1449.9ZM1506.5 745.6H1566.9V894.9H1506.5ZM1505.8 887.6H1635.2V899.1H1505.8ZM1506 887.6H1517.6V905.3H1506Z" fill="#000"/>
<rect x="1512.2" y="751.1" width="49.4" height="136" fill="#fff" />
<rect x="1295.5" y="453.2" width="75.6" height="22.3" fill="#fff" />
<line x1="1295.5" y1="453.6" x2="1371.1" y2="453.6" stroke="#555" stroke-width="0.9" />
<line x1="1295.5" y1="464.35" x2="1371.1" y2="464.35" stroke="#777" stroke-width="1.1" />
<line x1="1295.5" y1="475.1" x2="1371.1" y2="475.1" stroke="#555" stroke-width="0.9" />
<rect x="1491.8" y="453.2" width="88.7" height="22.3" fill="#fff" />
<line x1="1491.8" y1="453.6" x2="1580.5" y2="453.6" stroke="#555" stroke-width="0.9" />
<line x1="1491.8" y1="464.35" x2="1580.5" y2="464.35" stroke="#777" stroke-width="1.1" />
<line x1="1491.8" y1="475.1" x2="1580.5" y2="475.1" stroke="#555" stroke-width="0.9" />
<rect x="1301.6" y="1095.3" width="102.4" height="23" fill="#fff" />
<line x1="1301.6" y1="1095.7" x2="1404" y2="1095.7" stroke="#555" stroke-width="0.9" />
<line x1="1301.6" y1="1106.8" x2="1404" y2="1106.8" stroke="#777" stroke-width="1.1" />
<line x1="1301.6" y1="1117.9" x2="1404" y2="1117.9" stroke="#555" stroke-width="0.9" />
<rect x="1528.8" y="1095.3" width="68.2" height="23" fill="#fff" />
<line x1="1528.8" y1="1095.7" x2="1597" y2="1095.7" stroke="#555" stroke-width="0.9" />
<line x1="1528.8" y1="1106.8" x2="1597" y2="1106.8" stroke="#777" stroke-width="1.1" />
<line x1="1528.8" y1="1117.9" x2="1597" y2="1117.9" stroke="#555" stroke-width="0.9" />
<line x1="1512.2" y1="677.2" x2="1512.2" y2="745.6" stroke="#777" stroke-width="1" />
<line x1="1529.2" y1="677.2" x2="1529.2" y2="745.6" stroke="#777" stroke-width="1" />
<line x1="1545.9" y1="677.2" x2="1545.9" y2="745.6" stroke="#777" stroke-width="1" />
<line x1="1562.9" y1="677.2" x2="1562.9" y2="745.6" stroke="#777" stroke-width="1" />
<line x1="1472" y1="711.7" x2="1600.6" y2="711.7" stroke="#e4e4e4" stroke-width="1" />
<line x1="1472" y1="711.7" x2="1472" y2="779.5" stroke="#bbb" stroke-width="1" />
<line x1="1438.3" y1="779.5" x2="1506.5" y2="779.5" stroke="#555" stroke-width="0.9" />
<line x1="1566.9" y1="779.5" x2="1635.2" y2="779.5" stroke="#666" stroke-width="0.9" />
<line x1="1566.9" y1="796.4" x2="1635.2" y2="796.4" stroke="#555" stroke-width="0.9" />
<line x1="1600.6" y1="711.7" x2="1600.6" y2="787" stroke="#999" stroke-width="0.9" />
<line x1="1600.5" y1="787.4" x2="1600.5" y2="780" stroke="#999" stroke-width="0.9" />
<polygon points="1600.6,796.2 1598.05,786.4 1603.15,786.4" fill="#000"/>
<line x1="1570.9" y1="816.5" x2="1590.5" y2="815.6" stroke="#222" stroke-width="0.9" stroke-dasharray="7 4 40"/>
<path d="M1590.5 815.6 L1600.6 806.3 L1600.9 824.8 L1611.3 815.3" stroke="#222" stroke-width="0.9" fill="none" />
<line x1="1611.3" y1="815.3" x2="1631.4" y2="814.4" stroke="#222" stroke-width="0.9" stroke-dasharray="13 3 40"/>
<line x1="1502.3" y1="666.3" x2="1459.2" y2="630.5" stroke="#000" stroke-width="2.2" />
<path d="M1459.2 630.5 A56.03 56.03 0 0 0 1446.27 666.3" stroke="#333" stroke-width="0.9" fill="none" />
<line x1="1427.2" y1="735.3" x2="1391.8" y2="690.7" stroke="#000" stroke-width="2.2" />
<path d="M1391.8 690.7 A56.94 56.94 0 0 1 1427.2 678.36" stroke="#333" stroke-width="0.9" fill="none" />
<line x1="1340" y1="737.7" x2="1370.5" y2="714.9" stroke="#000" stroke-width="2.2" />
<path d="M1370.5 714.9 A38.08 38.08 0 0 1 1378.08 737.7" stroke="#333" stroke-width="0.9" fill="none" />
<line x1="1413.6" y1="737.7" x2="1385" y2="714.9" stroke="#000" stroke-width="2.2" />
<path d="M1385 714.9 A36.58 36.58 0 0 0 1377.02 737.7" stroke="#333" stroke-width="0.9" fill="none" />
<line x1="1223.6" y1="800.3" x2="1257.1" y2="826.5" stroke="#000" stroke-width="2.2" />
<path d="M1257.1 826.5 A42.53 42.53 0 0 0 1266.13 800.3" stroke="#333" stroke-width="0.9" fill="none" />
<line x1="1307.1" y1="800.3" x2="1274.5" y2="826.5" stroke="#000" stroke-width="2.2" />
<path d="M1274.5 826.5 A41.82 41.82 0 0 1 1265.28 800.3" stroke="#333" stroke-width="0.9" fill="none" />
<line x1="1427.2" y1="851.4" x2="1370.5" y2="851.4" stroke="#000" stroke-width="2.2" />
<path d="M1370.5 851.4 A56.7 56.7 0 0 1 1427.2 794.7" stroke="#333" stroke-width="0.9" fill="none" />
<line x1="1517.6" y1="905.6" x2="1554" y2="948.5" stroke="#000" stroke-width="2.2" />
<path d="M1554 948.5 A56.26 56.26 0 0 1 1517.6 961.86" stroke="#333" stroke-width="0.9" fill="none" />
<rect x="1464.5" y="1047.3" width="24" height="27" fill="none" stroke="#666" stroke-width="0.9" rx="1.5"/>
<rect x="1469" y="1049.3" width="17.3" height="23" fill="none" stroke="#666" stroke-width="0.9"/>
<circle cx="1477.1" cy="1060.8" r="1.2" fill="none" stroke="#555" stroke-width="0.7"/>
<rect x="1465.7" y="1056.5" width="2.4" height="2.2" fill="none" stroke="#555" stroke-width="0.7"/>
<line x1="1468.1" y1="1057.6" x2="1471" y2="1057.6" stroke="#555" stroke-width="0.7" />
<rect x="1465.7" y="1062.9" width="2.4" height="2.2" fill="none" stroke="#555" stroke-width="0.7"/>
<line x1="1468.1" y1="1064" x2="1471" y2="1064" stroke="#555" stroke-width="0.7" />
<g fill="#fff" stroke="#555" stroke-width="0.9">
<path d="M1624 1049.6 C1613.2 1046.6 1589.2 1045.3 1589.2 1059.8 C1589.2 1074.3 1613.2 1073 1624 1070 Z"/>
<ellipse cx="1604" cy="1059.8" rx="12.6" ry="10.1"/>
<circle cx="1606.6" cy="1059.8" r="3" stroke-width="0.8"/>
<rect x="1623.5" y="1043.7" width="11.5" height="32.2" rx="4.2"/>
<path d="M1632.6 1045 Q1634 1059.8 1632.6 1074.6" fill="none" stroke-width="0.7"/>
<circle cx="1627.9" cy="1059.8" r="0.8" stroke-width="0.7"/>
<circle cx="1619.4" cy="1054.2" r="0.7" stroke-width="0.7"/><circle cx="1619.4" cy="1065.4" r="0.7" stroke-width="0.7"/>
</g>
<rect x="1580.4" y="899.7" width="54" height="123.2" fill="none" stroke="#777" stroke-width="1"/>
<path d="M1587.23 911.06L1587.23 925.1Q1587.02 928.1 1585.06 930.89L1585.06 1000.49C1585.06 1011.75 1595.92 1017.84 1607.19 1017.84C1618.68 1017.84 1629.33 1011.75 1629.33 1000.49L1629.33 930.89Q1627.88 928.1 1627.88 925.1L1627.88 911.06Q1627.88 908.48 1625.3 908.48L1589.81 908.48Q1587.23 908.48 1587.23 911.06Z" stroke="#555" stroke-width="0.9" fill="none" />
<path d="M1585.06 1000.49C1587.12 1006.58 1596.43 1009.89 1607.19 1009.89C1618.16 1009.89 1627.26 1006.58 1629.33 1000.49" stroke="#666" stroke-width="0.8" fill="none" />
<circle cx="1606.68" cy="916.84" r="2.9" fill="none" stroke="#555" stroke-width="0.8"/>
<path d="M1602.12 901.56L1602.12 904.86L1604.81 904.86L1604.81 901.56Z" stroke="#555" stroke-width="0.7" fill="none" />
<path d="M1603.47 904.86L1603.47 908.48" stroke="#555" stroke-width="0.7" fill="none" />
<path d="M1608.54 901.56L1608.54 904.86L1611.23 904.86L1611.23 901.56Z" stroke="#555" stroke-width="0.7" fill="none" />
<path d="M1609.88 904.86L1609.88 908.48" stroke="#555" stroke-width="0.7" fill="none" />
<path d="M1604.81 903.21L1608.54 903.21" stroke="#555" stroke-width="0.7" fill="none" />
<line x1="1249.5" y1="484.3" x2="1249.5" y2="494.7" stroke="#555" stroke-width="0.9" />
<polygon points="1249.2,475.5 1246.65,485.3 1251.75,485.3" fill="#000"/>
<line x1="1249.5" y1="728.9" x2="1249.5" y2="719.5" stroke="#555" stroke-width="0.9" />
<polygon points="1249.2,737.7 1246.65,727.9 1251.75,727.9" fill="#000"/>
<line x1="1223.7" y1="532.5" x2="1235" y2="532.5" stroke="#555" stroke-width="0.9" />
<polygon points="1214.9,532.5 1224.7,529.95 1224.7,535.05" fill="#000"/>
<line x1="1418.4" y1="532.5" x2="1408" y2="532.5" stroke="#555" stroke-width="0.9" />
<polygon points="1427.2,532.5 1417.4,529.95 1417.4,535.05" fill="#000"/>
<line x1="1447.1" y1="525.5" x2="1457.8" y2="525.5" stroke="#555" stroke-width="0.9" />
<polygon points="1438.3,525.2 1448.1,522.65 1448.1,527.75" fill="#000"/>
<line x1="1626.4" y1="525.5" x2="1615.7" y2="525.5" stroke="#555" stroke-width="0.9" />
<polygon points="1635.2,525.2 1625.4,522.65 1625.4,527.75" fill="#000"/>
<line x1="1594.5" y1="484.3" x2="1594.5" y2="494.7" stroke="#555" stroke-width="0.9" />
<polygon points="1594.5,475.5 1591.95,485.3 1597.05,485.3" fill="#000"/>
<line x1="1594.5" y1="657.5" x2="1594.5" y2="647" stroke="#555" stroke-width="0.9" />
<polygon points="1594.5,666.3 1591.95,656.5 1597.05,656.5" fill="#000"/>
<line x1="1251.5" y1="757.7" x2="1251.5" y2="768.4" stroke="#555" stroke-width="0.9" />
<polygon points="1251.3,748.9 1248.75,758.7 1253.85,758.7" fill="#000"/>
<line x1="1251.5" y1="1086.5" x2="1251.5" y2="1075.8" stroke="#555" stroke-width="0.9" />
<polygon points="1251.3,1095.3 1248.75,1085.5 1253.85,1085.5" fill="#000"/>
<line x1="1223.7" y1="1046.5" x2="1234.7" y2="1046.5" stroke="#555" stroke-width="0.9" />
<polygon points="1214.9,1046.7 1224.7,1044.15 1224.7,1049.25" fill="#000"/>
<line x1="1441.1" y1="1046.5" x2="1430.7" y2="1046.5" stroke="#555" stroke-width="0.9" />
<polygon points="1449.9,1046.7 1440.1,1044.15 1440.1,1049.25" fill="#000"/>
<line x1="1552.5" y1="907.9" x2="1552.5" y2="918.5" stroke="#555" stroke-width="0.9" />
<polygon points="1552.8,899.1 1550.25,908.9 1555.35,908.9" fill="#000"/>
<line x1="1552.5" y1="1086.5" x2="1552.5" y2="1075.8" stroke="#555" stroke-width="0.9" />
<polygon points="1552.3,1095.3 1549.75,1085.5 1554.85,1085.5" fill="#000"/>
<line x1="1473.3" y1="1085.5" x2="1484" y2="1085.5" stroke="#555" stroke-width="0.9" />
<polygon points="1464.5,1085.1 1474.3,1082.55 1474.3,1087.65" fill="#000"/>
<line x1="1626.4" y1="1085.5" x2="1616.3" y2="1085.5" stroke="#555" stroke-width="0.9" />
<polygon points="1635.2,1085.1 1625.4,1082.55 1625.4,1087.65" fill="#000"/>
<line x1="1582.5" y1="1077.8" x2="1582.5" y2="1127.5" stroke="#555" stroke-width="0.9" />
<polygon points="1582.5,1069 1579.95,1078.8 1585.05,1078.8" fill="#000"/>
<rect x="1551.5" y="1127.5" width="106" height="75" fill="#fff" stroke="#999" stroke-width="1"/>
<text x="1605.2" y="1147.7" font-size="21" font-weight="normal" text-anchor="middle" >Bathroom</text>
<text x="1605.2" y="1173" font-size="21" font-weight="normal" text-anchor="middle" >2.64 x 2.29</text>
<text x="1605.2" y="1198.3" font-size="21" font-weight="normal" text-anchor="middle" >8'8&quot; x 7'6&quot;</text>
<text x="1321" y="588.9" font-size="21" font-weight="normal" text-anchor="middle" >Bedroom</text>
<text x="1321" y="614.1" font-size="21" font-weight="normal" text-anchor="middle" >3.68 x 2.92</text>
<text x="1321" y="639.3" font-size="21" font-weight="normal" text-anchor="middle" >12'1&quot; x 9'7&quot;</text>
<text x="1536.3" y="552" font-size="21" font-weight="normal" text-anchor="middle" >Bedroom</text>
<text x="1536.3" y="577.4" font-size="21" font-weight="normal" text-anchor="middle" >2.77 x 2.77</text>
<text x="1536.3" y="602.8" font-size="21" font-weight="normal" text-anchor="middle" >9'1&quot; x 9'1&quot;</text>
<text x="1321" y="921.6" font-size="21" font-weight="normal" text-anchor="middle" >Bedroom</text>
<text x="1321" y="947" font-size="21" font-weight="normal" text-anchor="middle" >4.37 x 3.38</text>
<text x="1321" y="972.4" font-size="21" font-weight="normal" text-anchor="middle" >14'4&quot; x 11'1&quot;</text>
<circle cx="1320.5" cy="1018.2" r="24.6" fill="none" stroke="#333" stroke-width="0.9"/>
<text x="1320.5" y="1014.7" font-size="15.6" font-weight="normal" text-anchor="middle" >CH</text>
<text x="1320.5" y="1033.4" font-size="15.6" font-weight="normal" text-anchor="middle" >2.91</text>
<circle cx="1610.5" cy="257.1" r="35.6" fill="none" stroke="#333" stroke-width="0.9"/>
<polygon points="1622.4,224.1 1604.1,243.5 1610.2,257.1" fill="#000"/>
<line x1="1622.4" y1="224.1" x2="1622.4" y2="251.9" stroke="#444" stroke-width="0.8" />
<polygon points="1643.7,269.7 1622.4,251.9 1610.2,257.1" fill="#000"/>
<line x1="1643.7" y1="269.7" x2="1616.7" y2="271.1" stroke="#444" stroke-width="0.8" />
<polygon points="1597.6,291 1616.7,271.1 1610.2,257.1" fill="#000"/>
<line x1="1597.6" y1="291" x2="1597.6" y2="262.7" stroke="#444" stroke-width="0.8" />
<polygon points="1577.2,245.9 1597.6,262.7 1610.2,257.1" fill="#000"/>
<line x1="1577.2" y1="245.9" x2="1604.1" y2="243.5" stroke="#444" stroke-width="0.8" />
<text x="1592.7" y="321" font-size="26.5" font-weight="normal" text-anchor="middle" >N</text>
<text x="831" y="32.2" font-size="40.2" font-weight="normal" text-anchor="middle" >Belsize Road, London, NW6</text>
<text x="831.5" y="67.7" font-size="21.1" font-weight="bold" text-anchor="middle" >Approximate Gross Internal Floor Area = 129.6 sq m / 1396 sq ft</text>
<text x="831.5" y="97.65" font-size="21.1" font-weight="bold" text-anchor="middle" >Ground Floor Area = 35.6 sq m / 384 sq ft</text>
<text x="831.5" y="127.6" font-size="21.1" font-weight="bold" text-anchor="middle" >First Floor Area = 46.9 sq m / 506 sq ft</text>
<text x="831.5" y="157.55" font-size="21.1" font-weight="bold" text-anchor="middle" >Second Floor Area = 46.9 sq m / 506 sq ft</text>
<text x="14" y="1427.5" font-size="31.5" font-weight="normal" text-anchor="start" >Ground Floor</text>
<text x="642" y="1427.5" font-size="31.5" font-weight="normal" text-anchor="start" >First Floor</text>
<text x="1197.5" y="1427.5" font-size="31.5" font-weight="normal" text-anchor="start" >Second Floor</text>
<text x="399.5" y="1488.8" font-size="20.4" font-weight="normal" text-anchor="start" textLength="862" lengthAdjust="spacing" fill="#111">Illustration for identification purposes only, measurements are approximate, not to scale.</text>
</svg>
</body></html>
